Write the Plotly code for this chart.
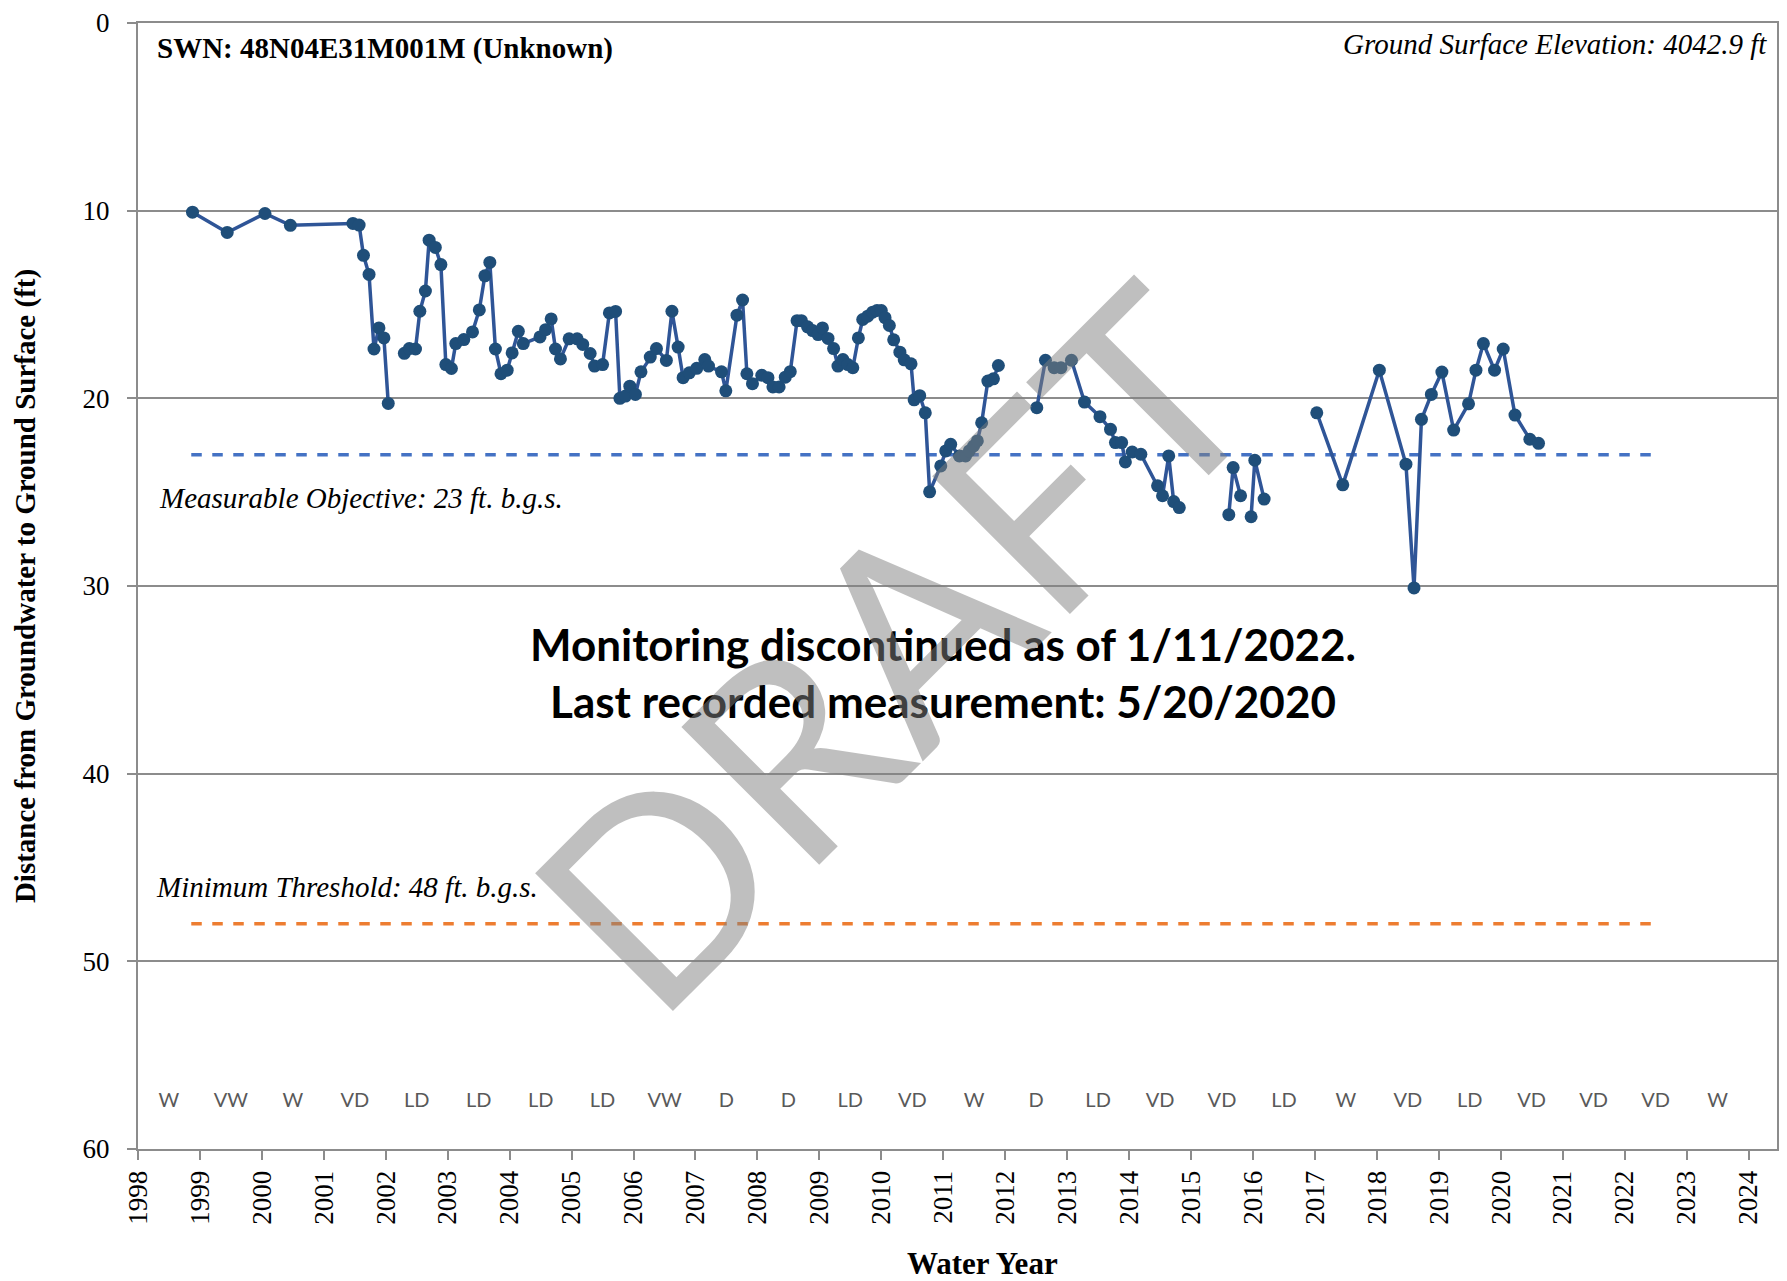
import plotly.graph_objects as go

# measurement dates (decimal water-year axis) and depth to water, ft b.g.s.
# None marks breaks where the record has no connecting line
dec_year = [
    1998.88, 1999.44, 2000.05, 2000.46, 2001.47, 2001.57, 2001.64, 2001.73, 2001.81, 2001.89,
    2001.97, 2002.04, None,
    2002.30, 2002.38, 2002.48, 2002.55, 2002.64, 2002.70, 2002.80, 2002.89, 2002.97, 2003.06,
    2003.13, 2003.26, 2003.40, 2003.51, 2003.60, 2003.68, 2003.77, 2003.86, 2003.96, 2004.04,
    2004.14, 2004.22, 2004.49, 2004.58, 2004.67, 2004.74, 2004.82, 2004.96, 2005.09, 2005.18,
    2005.30, 2005.37, 2005.50, 2005.61, 2005.71, 2005.78, 2005.87, 2005.94, 2006.03, 2006.12,
    2006.27, 2006.37, 2006.53, 2006.62, 2006.72, 2006.80, 2006.90, 2007.02, 2007.15, 2007.21,
    2007.42, 2007.49, 2007.67, 2007.76, 2007.83, 2007.92, 2008.07, 2008.17, 2008.25, 2008.35,
    2008.45, 2008.53, 2008.64, 2008.71, 2008.81, 2008.89, 2008.98, 2009.05, 2009.14, 2009.23,
    2009.30, 2009.38, 2009.46, 2009.54, 2009.63, 2009.70, 2009.78, 2009.86, 2009.93, 2010.00,
    2010.06, 2010.13, 2010.20, 2010.30, 2010.37, 2010.48, 2010.53, 2010.62, 2010.71, 2010.78,
    2010.96, 2011.04, 2011.12, 2011.26, 2011.36, 2011.42, 2011.49, 2011.55, 2011.62, 2011.72,
    2011.81, 2011.89, None,
    2012.51, 2012.65, 2012.79, 2012.90, 2013.07, 2013.28, 2013.53, 2013.70, 2013.78, 2013.88,
    2013.94, 2014.05, 2014.19, 2014.46, 2014.54, 2014.64, 2014.72, 2014.81, None,
    2015.61, 2015.68, 2015.80, None,
    2015.97, 2016.03, 2016.18, None,
    2017.03, 2017.45, 2018.04, 2018.47, 2018.60, 2018.72, 2018.88, 2019.05, 2019.24, 2019.48,
    2019.60, 2019.72, 2019.90, 2020.04, 2020.23, 2020.47, 2020.61,
]
depth_ft = [
    10.08, 11.16, 10.15, 10.78, 10.68, 10.77, 12.38, 13.40, 17.37, 16.25,
    16.78, 20.27, None,
    17.60, 17.35, 17.37, 15.36, 14.28, 11.57, 11.96, 12.87, 18.20, 18.41,
    17.08, 16.87, 16.46, 15.29, 13.47, 12.76, 17.37, 18.69, 18.50, 17.58,
    16.43, 17.08, 16.73, 16.34, 15.77, 17.37, 17.90, 16.83, 16.83, 17.13,
    17.61, 18.28, 18.20, 15.45, 15.37, 20.00, 19.88, 19.35, 19.79, 18.59,
    17.80, 17.35, 17.98, 15.36, 17.27, 18.90, 18.64, 18.40, 17.93, 18.28,
    18.59, 19.60, 15.57, 14.76, 18.69, 19.22, 18.77, 18.90, 19.39, 19.39,
    18.87, 18.58, 15.86, 15.86, 16.19, 16.39, 16.60, 16.25, 16.81, 17.35,
    18.28, 17.93, 18.20, 18.37, 16.78, 15.80, 15.62, 15.41, 15.32, 15.32,
    15.70, 16.12, 16.88, 17.54, 17.95, 18.16, 20.08, 19.86, 20.77, 24.98,
    23.60, 22.80, 22.45, 23.07, 23.07, 22.80, 22.54, 22.27, 21.30, 19.08,
    18.96, 18.25, None,
    20.50, 17.97, 18.37, 18.37, 17.97, 20.20, 20.98, 21.65, 22.36, 22.36,
    23.39, 22.86, 22.98, 24.66, 25.19, 23.07, 25.50, 25.82, None,
    26.20, 23.69, 25.19, None,
    26.31, 23.30, 25.37, None,
    20.77, 24.61, 18.50, 23.51, 30.10, 21.12, 19.79, 18.60, 21.69, 20.29,
    18.50, 17.08, 18.50, 17.37, 20.89, 22.18, 22.40,
]

# sustainability criteria lines
criteria_span = [1998.86, 2022.59]
measurable_objective = 23
minimum_threshold = 48

# water year type, one per water year
wy_years = list(range(1998, 2024))
wy_types = ["W", "VW", "W", "VD", "LD", "LD", "LD", "LD", "VW", "D", "D", "LD", "VD",
            "W", "D", "LD", "VD", "VD", "LD", "W", "VD", "LD", "VD", "VD", "VD", "W"]

year_ticks = list(range(1998, 2025))
depth_ticks = [0, 10, 20, 30, 40, 50, 60]

serif = "Liberation Serif, Times New Roman, serif"
sans = "Lato, Open Sans, sans-serif"
grid_col = "#8c8c8c"

fig = go.Figure()

fig.add_trace(go.Scatter(
    x=criteria_span, y=[measurable_objective] * 2, mode="lines",
    line=dict(color="#4472C4", width=3.5, dash="dash"), hoverinfo="skip"))
fig.add_trace(go.Scatter(
    x=criteria_span, y=[minimum_threshold] * 2, mode="lines",
    line=dict(color="#ED7D31", width=3.5, dash="dash"), hoverinfo="skip"))

fig.add_trace(go.Scatter(
    x=dec_year, y=depth_ft, mode="lines+markers", connectgaps=False,
    line=dict(color="#2F5597", width=3.5),
    marker=dict(color="#1F4E79", size=13)))

fig.add_trace(go.Scatter(
    x=[y + 0.5 for y in wy_years], y=[57.5] * len(wy_years), mode="text",
    text=wy_types, textfont=dict(family=sans, size=20, color="#595959"),
    hoverinfo="skip"))

annotations = [
    dict(x=1998.27, y=1.35, text="<b>SWN: 48N04E31M001M (Unknown)</b>",
         xanchor="left", font=dict(family=serif, size=29, color="black")),
    dict(x=2024.33, y=1.1, text="<i>Ground Surface Elevation: 4042.9 ft</i>",
         xanchor="right", font=dict(family=serif, size=29, color="black")),
    dict(x=1998.31, y=25.3, text="<i>Measurable Objective: 23 ft. b.g.s.</i>",
         xanchor="left", font=dict(family=serif, size=29, color="black")),
    dict(x=1998.26, y=46.05, text="<i>Minimum Threshold: 48 ft. b.g.s.</i>",
         xanchor="left", font=dict(family=serif, size=29, color="black")),
    dict(x=2011.0, y=34.6,
         text="<b>Monitoring discontinued as of 1/11/2022.<br>Last recorded measurement: 5/20/2020</b>",
         font=dict(family=sans, size=44, color="black")),
    dict(x=2010.15, y=33.15, text="DRAFT", textangle=-45,
         font=dict(family=sans, size=272, color="rgba(128,128,128,0.5)")),
]
for a in annotations:
    a.update(xref="x", yref="y", showarrow=False)

# axis titles placed as paper annotations
annotations += [
    dict(x=0.515, y=-0.1015, xref="paper", yref="paper", showarrow=False,
         text="<b>Water Year</b>", yanchor="middle",
         font=dict(family=serif, size=31, color="black")),
    dict(x=-0.0689, y=0.5, xref="paper", yref="paper", showarrow=False,
         text="<b>Distance from Groundwater to Ground Surface (ft)</b>", textangle=-90,
         xanchor="center", yanchor="middle",
         font=dict(family=serif, size=29, color="black")),
]

fig.update_layout(
    width=1787, height=1281,
    margin=dict(l=138, r=8, t=17, b=132),
    plot_bgcolor="white", paper_bgcolor="white",
    showlegend=False,
    annotations=annotations,
    xaxis=dict(
        range=[1998, 2024.46], tickvals=year_ticks, tickangle=-90,
        tickfont=dict(family=serif, size=27, color="black"),
        ticks="outside", ticklen=9, tickcolor=grid_col, tickwidth=2,
        showgrid=False, zeroline=False,
        showline=True, linecolor=grid_col, linewidth=2, mirror=True,
    ),
    yaxis=dict(
        range=[60, 0], tickvals=depth_ticks,
        tickfont=dict(family=serif, size=27, color="black"),
        ticks="outside", ticklen=9, tickcolor=grid_col, tickwidth=2,
        ticklabelstandoff=12,
        showgrid=True, gridcolor=grid_col, gridwidth=1.5, zeroline=False,
        showline=True, linecolor=grid_col, linewidth=2, mirror=True,
    ),
)

# drop the default page margin so the figure sits flush with the window
fig.write_html("out.html", config={"displayModeBar": False},
               post_script="document.body.style.margin = '0';")
